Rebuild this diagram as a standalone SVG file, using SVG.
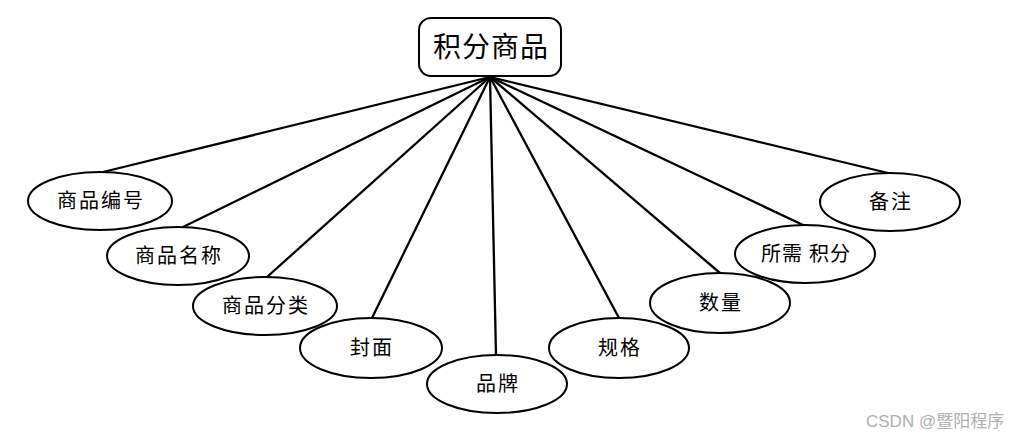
<svg xmlns="http://www.w3.org/2000/svg" width="1033" height="439" viewBox="0 0 1033 439">
<style>
.n{fill:#fff;stroke:#000;stroke-width:2}
.t{font-family:"Liberation Serif","Noto Sans CJK SC",serif;font-size:20px;fill:#000;text-anchor:middle;dominant-baseline:central;letter-spacing:2px}
.e{stroke:#000;stroke-width:2.3;fill:none}
.wm{font-family:"Liberation Sans","Noto Sans CJK SC",sans-serif;font-size:17px;fill:#b0b0b0}
</style>
<rect width="1033" height="439" fill="#fff"/>
<g id="edges">
<line class="e" x1="490" y1="77" x2="103" y2="172"/>
<line class="e" x1="490" y1="77" x2="183" y2="227"/>
<line class="e" x1="490" y1="77" x2="267" y2="277"/>
<line class="e" x1="490" y1="77" x2="372" y2="318"/>
<line class="e" x1="490" y1="77" x2="496" y2="355"/>
<line class="e" x1="490" y1="77" x2="619" y2="318"/>
<line class="e" x1="490" y1="77" x2="720" y2="273"/>
<line class="e" x1="490" y1="77" x2="803" y2="225"/>
<line class="e" x1="490" y1="77" x2="888" y2="173"/>
</g>
<g id="root">
<rect class="n" x="419" y="18" width="142" height="58" rx="12"/>
<text class="t" x="491" y="47" style="font-size:28px;letter-spacing:1px">积分商品</text>
</g>
<g id="n1"><ellipse class="n" cx="100" cy="201" rx="72" ry="29"/><text class="t" x="101" y="201">商品编号</text></g>
<g id="n2"><ellipse class="n" cx="178" cy="256" rx="71" ry="29"/><text class="t" x="179" y="256">商品名称</text></g>
<g id="n3"><ellipse class="n" cx="265" cy="306" rx="72" ry="29"/><text class="t" x="266" y="306">商品分类</text></g>
<g id="n4"><ellipse class="n" cx="371" cy="348" rx="71" ry="30"/><text class="t" x="372" y="348">封面</text></g>
<g id="n5"><ellipse class="n" cx="497" cy="384" rx="70" ry="29"/><text class="t" x="498" y="384">品牌</text></g>
<g id="n6"><ellipse class="n" cx="619" cy="348" rx="70" ry="30"/><text class="t" x="620" y="348">规格</text></g>
<g id="n7"><ellipse class="n" cx="720" cy="303" rx="70" ry="30"/><text class="t" x="721" y="303">数量</text></g>
<g id="n8"><ellipse class="n" cx="805" cy="254" rx="70" ry="29"/><text class="t" x="806" y="254" style="letter-spacing:1px">所需 积分</text></g>
<g id="n9"><ellipse class="n" cx="890" cy="202" rx="70" ry="29"/><text class="t" x="891" y="202">备注</text></g>
<text class="wm" x="866" y="427">CSDN @暨阳程序</text>
</svg>
